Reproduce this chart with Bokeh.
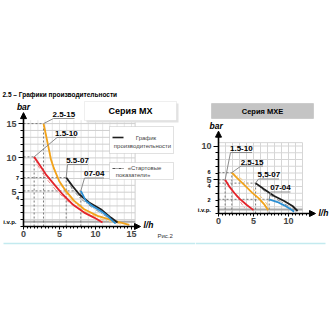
import numpy as np
from bokeh.plotting import figure
from bokeh.models import Range1d, FixedTicker, Label, BoxAnnotation, Arrow, NormalHead
from bokeh.layouts import row
from bokeh.embed import file_html
from bokeh.resources import INLINE

# ---------------- data: MX series (left chart) ----------------
mx_2515_q = [2.78, 3.10, 3.43, 3.80, 4.26, 4.95, 5.88, 7.04, 8.43, 10.28, 12.6, 14.7]
mx_2515_p = [15.0, 13.45, 11.75, 9.8, 8.35, 6.65, 5.19, 3.73, 2.52, 1.55, 0.82, 0.25]
mx_2515_sq = [2.78, 3.3, 4.0, 5.0, 6.5, 8.5, 11.0, 13.5]
mx_2515_sp = [15.0, 12.3, 9.3, 6.4, 4.0, 2.2, 1.0, 0.35]

mx_1510_q = [1.48, 2.18, 3.1, 4.26, 5.42, 6.8, 8.43, 9.8, 10.97]
mx_1510_p = [10.15, 9.08, 7.6, 6.15, 4.7, 3.25, 2.03, 1.3, 0.57]
mx_1510_sq = [1.48, 2.0, 3.0, 4.5, 6.0, 8.0, 10.0, 11.3]
mx_1510_sp = [10.15, 8.9, 7.2, 5.3, 3.8, 2.3, 1.2, 0.55]

mx_5507_q = [5.93, 6.8, 7.73, 9.12, 10.74, 12.13, 13.06]
mx_5507_p = [7.13, 5.9, 4.7, 3.49, 2.52, 1.3, 0.57]
mx_5507_sq = [5.93, 6.8, 8.0, 9.5, 11.0, 12.4, 13.3]
mx_5507_sp = [7.13, 5.4, 4.0, 2.8, 1.8, 0.9, 0.45]

mx_0704_q = [7.96, 8.66, 9.58, 10.74, 11.67, 12.36, 12.8]
mx_0704_p = [5.19, 3.73, 3.0, 2.27, 1.55, 0.82, 0.43]
mx_0704_sq = [7.96, 8.5, 9.5, 11.0, 12.4]
mx_0704_sp = [5.19, 4.0, 2.9, 1.8, 0.7]

# ---------------- data: MXE series (right chart) ----------------
mxe_1510_q = [0.95, 1.6, 2.3, 3.0, 4.0, 5.0]
mxe_1510_p = [5.0, 3.9, 3.0, 2.2, 1.3, 0.5]
mxe_1510_sq = [0.95, 1.6, 2.4, 3.2, 3.9]
mxe_1510_sp = [5.0, 4.0, 2.8, 1.6, 0.6]

mxe_2515_q = [1.9, 2.6, 3.6, 4.8, 5.8, 6.5, 7.1]
mxe_2515_p = [6.05, 5.3, 4.3, 3.1, 2.2, 1.4, 0.5]
mxe_2515_sq = [1.9, 2.8, 4.0, 5.3, 6.5, 7.3]
mxe_2515_sp = [6.05, 5.5, 4.5, 3.3, 2.0, 0.8]

mxe_5507_q = [5.3, 6.52, 7.95, 9.38, 10.57, 11.3]
mxe_5507_p = [4.5, 3.58, 2.59, 1.85, 1.11, 0.37]
mxe_5507_sq = [5.3, 6.6, 8.0, 9.5, 10.8]
mxe_5507_sp = [4.5, 3.3, 2.3, 1.4, 0.5]

mxe_0704_q = [7.24, 8.43, 9.38, 10.33, 10.8]
mxe_0704_p = [2.1, 1.7, 1.21, 0.62, 0.27]

# tick values / labels
mx_x_ticks = [0, 5, 10, 15]
mx_y_ticks = [5, 10, 15]
mx_y_small = [(7, "7"), (4.2, "4"), (0.7, "i.v.p.")]
mxe_x_ticks = [0, 5, 10]
mxe_y_ticks = [5, 10]
mxe_y_small = [(6.1, "6"), (4.05, "4"), (2.07, "2"), (0.55, "i.v.p.")]
ivp_mx = 0.7
ivp_mxe = 0.6

ORANGE, ORANGE_L = "#f2a31b", "#f7c879"
RED, RED_L = "#e4242b", "#f08c8c"
BLACK, BLACK_L = "#1e1e1e", "#8a8a8a"
BLUE, BLUE_L = "#2c8fd3", "#93c6ec"
FONT = "Liberation Sans"

W1, W2, H = 195, 136, 331
OX1, OY1 = 23, 226       # origin of left chart (px inside its figure)
OX2, OY2 = 23, 213       # origin of right chart (px inside its figure)
SX1, SY1 = 7.2, 6.86
SX2, SY2 = 7.0, 6.75


def d1(px, py):
    return ((px - OX1) / SX1, (OY1 - py) / SY1)


def d2(px, py):
    return ((px - W1 - OX2) / SX2, (OY2 - py) / SY2)


def make_fig(w, ox, oy, sx, sy):
    p = figure(width=w, height=H,
               x_range=Range1d(-ox / sx, (w - ox) / sx),
               y_range=Range1d(-(H - oy) / sy, oy / sy),
               min_border=0, min_border_left=0, min_border_right=0,
               min_border_top=0, min_border_bottom=0,
               toolbar_location=None, output_backend="svg",
               background_fill_color="white", border_fill_color="white",
               outline_line_color=None)
    p.xgrid.visible = False
    p.ygrid.visible = False
    p.xaxis.fixed_location = 0
    p.yaxis.fixed_location = 0
    return p


def lab(p, conv, px, py, text, size, bold=True, italic=False, align="center",
        color="black"):
    x, y = conv(px, py)
    style = "bold italic" if (bold and italic) else ("bold" if bold else ("italic" if italic else "normal"))
    p.add_layout(Label(x=x, y=y, text=text, text_font=FONT, text_font_size=f"{size}px",
                       text_font_style=style, text_align=align, text_baseline="middle",
                       text_color=color, level="overlay"))


def box(p, conv, x0, y0, x1, y1, fill, line, lw=1):
    a, b = conv(x0, y1)
    c, d = conv(x1, y0)
    p.add_layout(BoxAnnotation(left=a, right=c, bottom=b, top=d, fill_color=fill,
                               fill_alpha=1, line_color=line, line_width=lw,
                               level="annotation"))


def style_axes(p, xt, xminor, xb, yt, yminor, yb):
    ax = p.xaxis[0]
    ax.ticker = FixedTicker(ticks=xt, minor_ticks=xminor)
    ax.bounds = xb
    ax.axis_line_width = 1.6
    ax.major_tick_out, ax.major_tick_in = 3, 0
    ax.minor_tick_out, ax.minor_tick_in = 2, 0
    ax.major_label_standoff = 1
    ax.major_label_text_font = FONT
    ax.major_label_text_font_style = "bold"
    ax.major_label_text_font_size = "9px"
    ay = p.yaxis[0]
    ay.ticker = FixedTicker(ticks=yt, minor_ticks=yminor)
    ay.bounds = yb
    ay.axis_line_width = 1.6
    ay.major_tick_out, ay.major_tick_in = 5, 0
    ay.minor_tick_out, ay.minor_tick_in = 3, 0
    ay.major_label_standoff = 2
    ay.major_label_text_font = FONT
    ay.major_label_text_font_style = "bold"
    ay.major_label_text_font_size = "9px"


def arrows(p, xb, xtip, yb, ytip):
    p.add_layout(Arrow(end=NormalHead(size=6, fill_color="black", line_color="black"),
                       x_start=xb - 0.3, y_start=0, x_end=xtip, y_end=0, line_width=1.6))
    p.add_layout(Arrow(end=NormalHead(size=6, fill_color="black", line_color="black"),
                       x_start=0, y_start=yb - 0.3, x_end=0, y_end=ytip, line_width=1.6))


def guides(p, curves):
    for q, pr in curves:
        p.segment(x0=[q[0], 0], y0=[0, pr[0]], x1=[q[0], q[0]], y1=[pr[0], pr[0]],
                  line_color="#7a7a7a", line_width=1, line_dash="2 2")


def leader(p, conv, tx0, tx1, ty, ex, ey):
    a, b = conv(tx0, ty)
    c, _ = conv(tx1, ty)
    p.line([c, a, ex], [b, b, ey], line_color="#8c8c8c", line_width=1)


# =================== LEFT: MX ===================
p1 = make_fig(W1, OX1, OY1, SX1, SY1)
gx = list(range(1, 16))
gy = list(range(1, 16))
p1.segment(x0=gx, y0=[0] * len(gx), x1=gx, y1=[15.5] * len(gx), line_color="#e6e6e6", line_width=1)
p1.segment(x0=[0] * len(gy), y0=gy, x1=[15.5] * len(gy), y1=gy, line_color="#cfcfcf", line_width=1)
p1.segment(x0=[15.5], y0=[0], x1=[15.5], y1=[15.5], line_color="#cfcfcf", line_width=1)
p1.segment(x0=[0], y0=[ivp_mx], x1=[15.5], y1=[ivp_mx], line_color="#a8a8a8", line_width=2)

mx_curves = [(mx_2515_q, mx_2515_p), (mx_1510_q, mx_1510_p), (mx_5507_q, mx_5507_p), (mx_0704_q, mx_0704_p)]
guides(p1, mx_curves)

for q, pr, c in [(mx_2515_sq, mx_2515_sp, ORANGE_L), (mx_1510_sq, mx_1510_sp, RED_L),
                 (mx_5507_sq, mx_5507_sp, BLACK_L), (mx_0704_sq, mx_0704_sp, BLUE_L)]:
    p1.line(q, pr, line_color=c, line_width=1, line_dash="4 2 1 2")
for q, pr, c in [(mx_1510_q, mx_1510_p, RED), (mx_2515_q, mx_2515_p, ORANGE),
                 (mx_5507_q, mx_5507_p, BLACK), (mx_0704_q, mx_0704_p, BLUE)]:
    p1.line(q, pr, line_color=c, line_width=1.8)

style_axes(p1, mx_x_ticks, list(np.arange(0, 16, 0.5)), (0, 15.9),
           mx_y_ticks, list(range(0, 16)), (0, 16.0))
arrows(p1, 15.9, 16.25, 16.0, 16.6)

for v, t in mx_y_small:
    lab(p1, d1, 16 if t == "i.v.p." else 18.5, OY1 - v * SY1, t,
        6 if t == "i.v.p." else 5.5, align="right")

# labels with leaders
lab(p1, d1, 63.3, 113.5, "2.5-15", 8)
leader(p1, d1, 53, 74, 118, mx_2515_q[0], mx_2515_p[0])
lab(p1, d1, 65.8, 132.5, "1.5-10", 8)
leader(p1, d1, 56.5, 75.5, 137, mx_1510_q[0], mx_1510_p[0])
lab(p1, d1, 77, 159.5, "5.5-07", 8)
leader(p1, d1, 67, 87.5, 164, mx_5507_q[0], mx_5507_p[0])
lab(p1, d1, 93.7, 173, "07-04", 8)
leader(p1, d1, 84, 103.5, 177.5, mx_0704_q[0], mx_0704_p[0])

lab(p1, d1, 23, 106, "bar", 8.5, italic=True)
lab(p1, d1, 143, 224, "l/h", 8.5, italic=True, align="left")
lab(p1, d1, 157, 235, "Рис.2", 6, bold=False, align="left", color="#333333")

# header and legend boxes
lab(p1, d1, 2, 94, "2.5 – Графики  производительности", 6.5, align="left")
box(p1, d1, 86, 103, 178, 122, "#e2e2e2", None)
box(p1, d1, 84, 101, 176, 120, "white", "#c9c9c9")
lab(p1, d1, 130, 110.5, "Серия MX", 9)

box(p1, d1, 109, 126, 173, 153, "white", "#9a9a9a")
lx0, ly0 = d1(112, 137)
lx1, _ = d1(123, 137)
p1.line([lx0, lx1], [ly0, ly0], line_color=BLACK, line_width=1.6, level="overlay")
lab(p1, d1, 145.5, 137.5, "График", 6, bold=False, color="#444444")
lab(p1, d1, 142, 145, "производительности", 6, bold=False, color="#444444")

box(p1, d1, 109, 162, 173, 179, "white", "#9a9a9a")
lx0, ly0 = d1(112, 168)
lx1, _ = d1(124, 168)
p1.line([lx0, lx1], [ly0, ly0], line_color="#555555", line_width=1, line_dash="3 1 1 1", level="overlay")
lab(p1, d1, 144, 167.5, "«Стартовые", 6, bold=False, color="#444444")
lab(p1, d1, 132.5, 174, "показатели»", 6, bold=False, color="#444444")

cx0, cy = d1(3, 243)
cx1, _ = d1(W1, 243)
p1.add_layout(Arrow(end=None, x_start=cx0, y_start=cy, x_end=cx1, y_end=cy,
                    line_color="#c3eaef", line_width=1.5))

# =================== RIGHT: MXE ===================
p2 = make_fig(W2, OX2, OY2, SX2, SY2)
gx2 = list(range(1, 13))
gy2 = list(range(1, 11))
p2.segment(x0=gx2, y0=[0] * len(gx2), x1=gx2, y1=[10.5] * len(gx2), line_color="#d6d6d6", line_width=1)
p2.segment(x0=[0] * len(gy2), y0=gy2, x1=[12] * len(gy2), y1=gy2, line_color="#d6d6d6", line_width=1)
p2.segment(x0=[0], y0=[10.5], x1=[12], y1=[10.5], line_color="#d6d6d6", line_width=1)
p2.segment(x0=[0], y0=[ivp_mxe], x1=[12], y1=[ivp_mxe], line_color="#a8a8a8", line_width=2)

mxe_curves = [(mxe_1510_q, mxe_1510_p), (mxe_2515_q, mxe_2515_p), (mxe_5507_q, mxe_5507_p), (mxe_0704_q, mxe_0704_p)]
guides(p2, mxe_curves)

for q, pr, c in [(mxe_1510_sq, mxe_1510_sp, RED_L), (mxe_2515_sq, mxe_2515_sp, ORANGE_L),
                 (mxe_5507_sq, mxe_5507_sp, BLACK_L)]:
    p2.line(q, pr, line_color=c, line_width=1, line_dash="4 2 1 2")
for q, pr, c in [(mxe_1510_q, mxe_1510_p, RED), (mxe_2515_q, mxe_2515_p, ORANGE),
                 (mxe_5507_q, mxe_5507_p, BLACK), (mxe_0704_q, mxe_0704_p, BLUE)]:
    p2.line(q, pr, line_color=c, line_width=1.8)

style_axes(p2, mxe_x_ticks, list(np.arange(0, 13, 0.5)), (0, 13.4),
           mxe_y_ticks, list(range(0, 11)), (0, 11.6))
arrows(p2, 13.4, 13.86, 11.6, 12.2)

for v, t in mxe_y_small:
    lab(p2, d2, 210.5 if t == "i.v.p." else 210, OY2 - v * SY2, t,
        6 if t == "i.v.p." else 5.5, align="right")

lab(p2, d2, 240.8, 148, "1.5-10", 8)
leader(p2, d2, 230, 251.5, 152, mxe_1510_q[0], mxe_1510_p[0])
lab(p2, d2, 251.5, 161.5, "2.5-15", 8)
leader(p2, d2, 240.5, 262.5, 165.5, mxe_2515_q[0], mxe_2515_p[0])
lab(p2, d2, 268.3, 174, "5,5-07", 8)
leader(p2, d2, 258, 278.5, 178.5, mxe_5507_q[0], mxe_5507_p[0])
lab(p2, d2, 280, 187, "07-04", 8)
leader(p2, d2, 270, 290, 191.5, mxe_0704_q[0], mxe_0704_p[0])

lab(p2, d2, 215.7, 125.7, "bar", 8.5, italic=True)
lab(p2, d2, 318, 212, "l/h", 8.5, italic=True, align="left")

box(p2, d2, 211, 103, 313, 118, "#c4c4c4", "#9c9c9c")
lab(p2, d2, 262, 110.7, "Серия MXE", 7.5)

cx0, cy = d2(W1, 243)
cx1, _ = d2(325, 243)
p2.add_layout(Arrow(end=None, x_start=cx0, y_start=cy, x_end=cx1, y_end=cy,
                    line_color="#c3eaef", line_width=1.5))

layout = row(p1, p2)
open("out.html", "w").write(file_html(layout, INLINE))
